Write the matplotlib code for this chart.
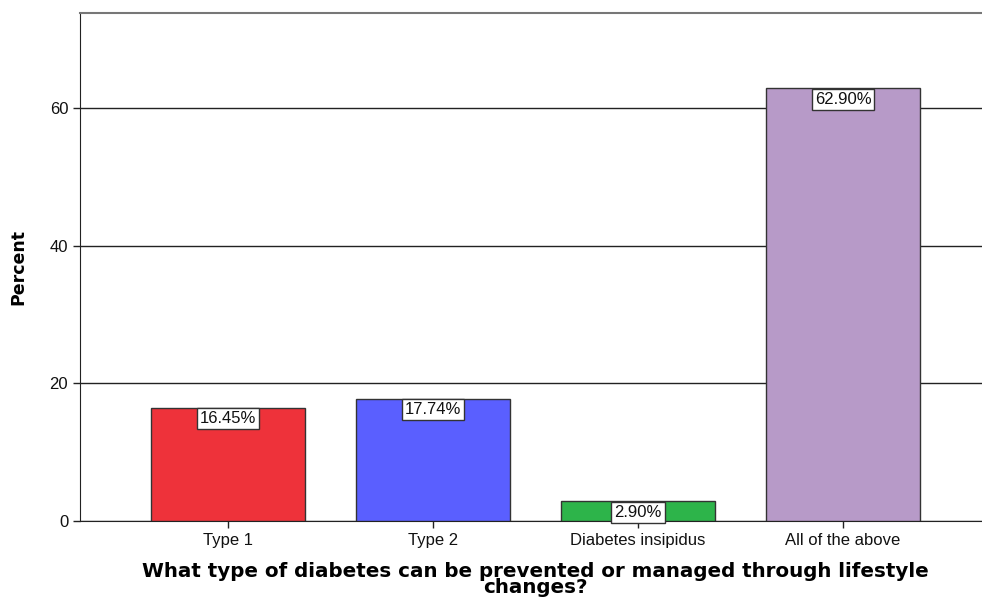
import matplotlib.pyplot as plt
import numpy as np

categories = ["Type 1", "Type 2", "Diabetes insipidus", "All of the above"]
percent = [16.45, 17.74, 2.90, 62.90]
bar_colors = ["#ee323a", "#5a5fff", "#2db44a", "#b79ac8"]
yticks = [0, 20, 40, 60]

fig = plt.figure(figsize=(9.82, 5.97), dpi=100)
ax = fig.add_axes([80 / 982, 1 - 521 / 597, (991 - 80) / 982, (521 - 13) / 597])

x = np.arange(len(categories))
ax.bar(x, percent, width=0.751, color=bar_colors, edgecolor="#333333", linewidth=1.0, zorder=3)

for xi, v in zip(x, percent):
    ax.annotate(f"{v:.2f}%", (xi, v), xytext=(0, -2.5), textcoords="offset points",
                ha="center", va="top", fontsize=12, family="Liberation Sans", color="#111111", zorder=4,
                bbox=dict(boxstyle="square,pad=0.18", facecolor="white", edgecolor="#333333", linewidth=1.0))

ax.set_xlim(-0.722, 3.722)
ax.set_ylim(0, 73.8)
ax.set_yticks(yticks)
ax.set_xticks(x)
ax.set_xticklabels(categories, family="Liberation Sans", fontsize=12)
ax.set_yticklabels([str(t) for t in yticks], family="Liberation Sans", fontsize=12)
ax.tick_params(axis="both", direction="out", length=5, width=1, color="#222222", labelcolor="#111111")
ax.yaxis.grid(True, color="#222222", linewidth=1.0, zorder=0)
ax.set_axisbelow(True)

ax.spines["right"].set_visible(False)
ax.spines["top"].set_color("#777777")
ax.spines["top"].set_linewidth(1.5)
ax.spines["left"].set_color("#222222")
ax.spines["bottom"].set_color("#222222")

ax.set_ylabel("Percent", fontsize=12.5, fontweight="bold", family="DejaVu Sans")
ax.yaxis.set_label_coords((27 - 80) / (991 - 80), 0.5)
ax.set_xlabel("What type of diabetes can be prevented or managed through lifestyle\nchanges?",
              fontsize=14.3, fontweight="bold", family="DejaVu Sans", linespacing=0.8)
ax.xaxis.set_label_coords((535 - 80) / (991 - 80), -0.08)

fig.savefig("out.png", dpi=100)
